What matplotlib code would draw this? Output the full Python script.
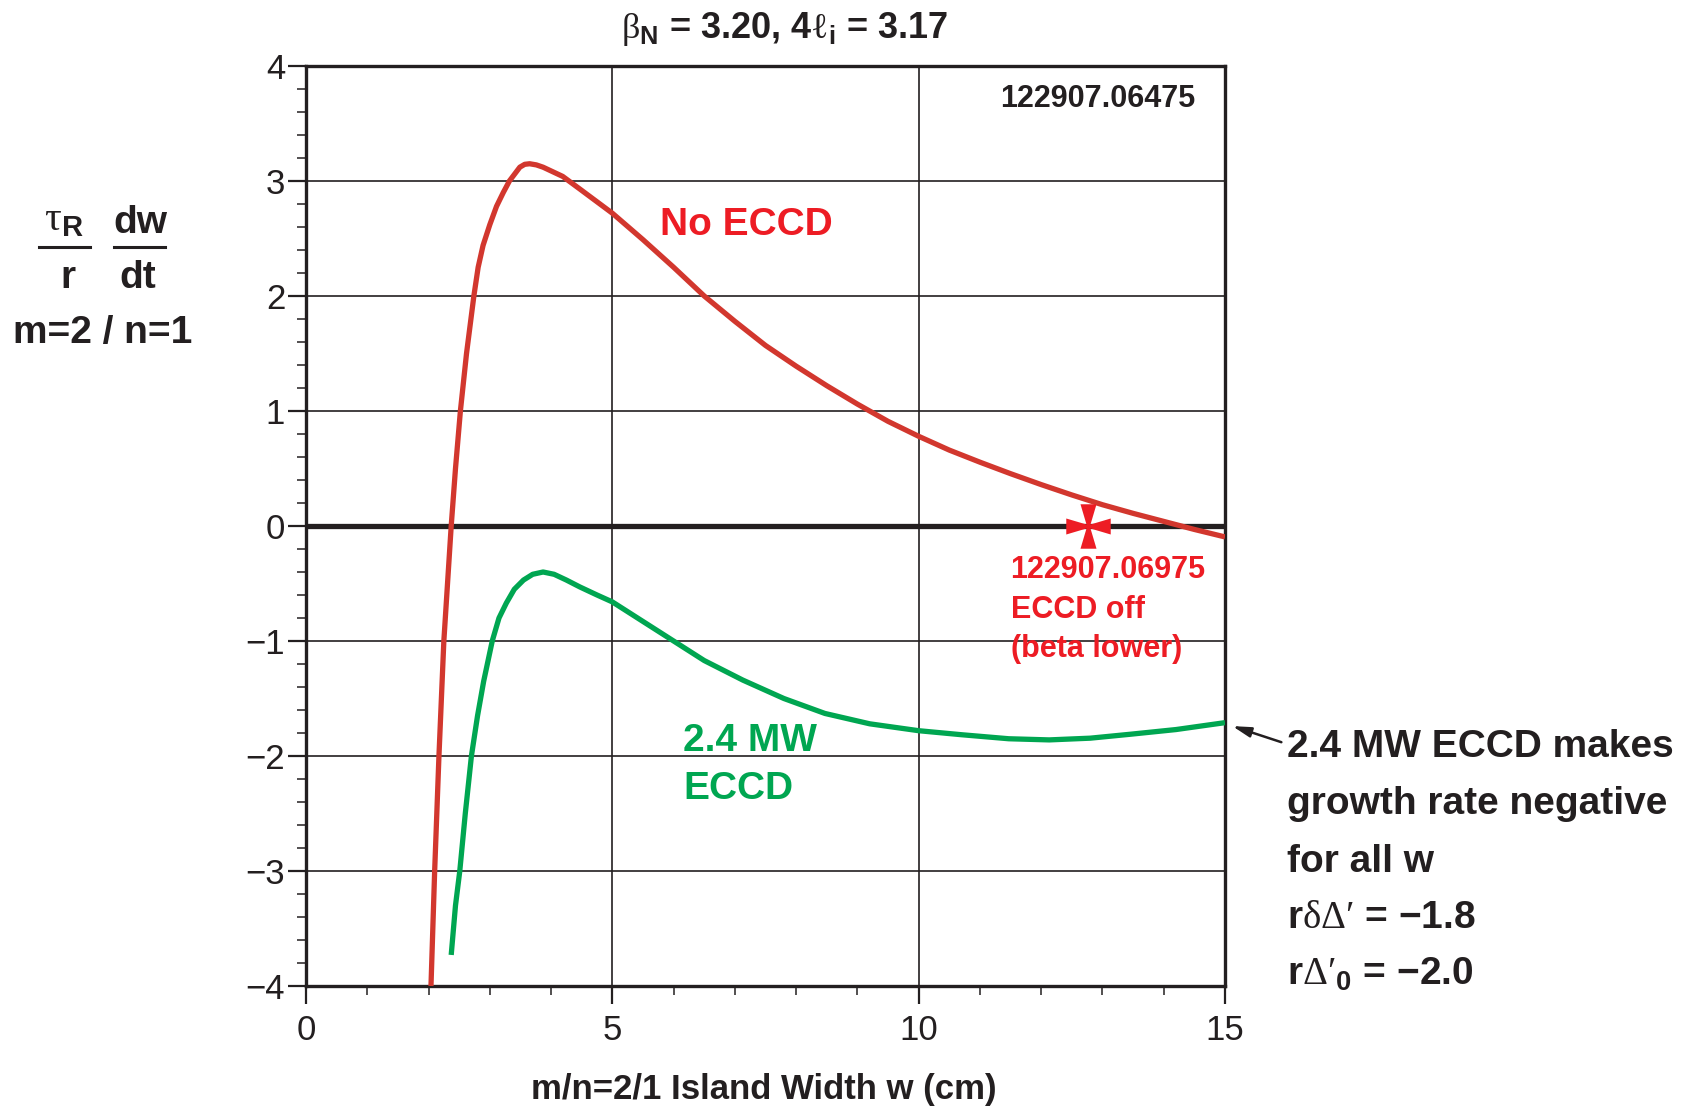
import numpy as np
import matplotlib
matplotlib.use('Agg')
import matplotlib.pyplot as plt
from matplotlib.lines import Line2D
from matplotlib.path import Path
from matplotlib.ticker import MultipleLocator

# Data
# No ECCD growth rate curve
red_w = [2.04, 2.07, 2.10, 2.135, 2.17, 2.21, 2.25, 2.31, 2.37, 2.44, 2.52, 2.62, 2.74, 2.81,
         2.89, 3.00, 3.11, 3.22, 3.32, 3.49, 3.57, 3.65, 3.76, 3.87, 4.19, 4.47, 5.0, 5.5,
         6.0, 6.5, 7.0, 7.5, 8.0, 8.5, 9.0, 9.5, 10.0, 10.5, 11.0, 11.5, 12.0, 12.5,
         13.0, 13.5, 14.0, 14.5, 15.0]
red_g = [-4.0, -3.5, -3.0, -2.5, -2.0, -1.5, -1.0, -0.5, 0.0, 0.5, 1.0, 1.5, 2.0, 2.25,
         2.44, 2.62, 2.78, 2.90, 3.00, 3.12, 3.145, 3.15, 3.14, 3.12, 3.04, 2.93, 2.72, 2.49,
         2.25, 2.00, 1.78, 1.57, 1.39, 1.22, 1.06, 0.91, 0.78, 0.66, 0.555, 0.455, 0.36, 0.27,
         0.185, 0.11, 0.04, -0.03, -0.095]

# 2.4 MW ECCD curve
green_w = [2.37, 2.44, 2.51, 2.60, 2.70, 2.80, 2.90, 3.04, 3.15, 3.27, 3.40, 3.55, 3.70, 3.87,
           4.05, 4.25, 4.47, 4.75, 5.0, 5.5, 6.0, 6.5, 7.13, 7.8, 8.47, 9.2, 10.0, 10.7,
           11.47, 12.13, 12.8, 13.47, 14.2, 15.0]
green_g = [-3.73, -3.3, -3.0, -2.5, -2.0, -1.65, -1.35, -1.0, -0.80, -0.67, -0.55, -0.47, -0.42, -0.40,
           -0.42, -0.47, -0.53, -0.60, -0.66, -0.83, -1.0, -1.17, -1.34, -1.50, -1.63, -1.72, -1.78, -1.815,
           -1.85, -1.86, -1.845, -1.81, -1.77, -1.71]

# ECCD off shot
marker_w = [12.76]
marker_g = [0.0]

xticks = [0, 5, 10, 15]
yticks = [-4, -3, -2, -1, 0, 1, 2, 3, 4]

RED_LINE = '#D2372E'
RED_TXT = '#ED1C24'
GREEN = '#00A651'
INK = '#231F20'
FONT = 'Liberation Sans'

plt.rcParams['font.family'] = [FONT, 'DejaVu Sans']
plt.rcParams['mathtext.fontset'] = 'custom'
plt.rcParams['mathtext.rm'] = FONT + ':bold'
plt.rcParams['mathtext.sf'] = 'Liberation Serif'

W, H = 1690, 1110
fig = plt.figure(figsize=(W / 100, H / 100), dpi=100)
ax = fig.add_axes([306 / W, 1 - 986 / H, 919 / W, 920 / H])


def fx(px):
    return px / W


def fy(py):
    return 1 - py / H


# maltese-cross marker
verts = [(1, -0.36), (1, 0.36), (0.09, 0.09), (0.36, 1), (-0.36, 1), (-0.09, 0.09),
         (-1, 0.36), (-1, -0.36), (-0.09, -0.09), (-0.36, -1), (0.36, -1), (0.09, -0.09), (1, -0.36)]
cross = Path(verts, [Path.MOVETO] + [Path.LINETO] * 11 + [Path.CLOSEPOLY])

ax.axhline(0, color=INK, lw=3.8, zorder=2)
ax.plot(red_w, red_g, color=RED_LINE, lw=3.8, zorder=3, solid_capstyle='butt', solid_joinstyle='round')
ax.plot(green_w, green_g, color=GREEN, lw=3.8, zorder=3, solid_capstyle='butt', solid_joinstyle='round')
ax.plot(marker_w, marker_g, linestyle='none', marker=cross, markersize=32,
        color=RED_TXT, markeredgewidth=0, zorder=4)

ax.set_xlim(0, 15)
ax.set_ylim(-4, 4)
ax.set_xticks(xticks)
ax.set_yticks(yticks)
ax.xaxis.set_minor_locator(MultipleLocator(1))
ax.yaxis.set_minor_locator(MultipleLocator(0.2))
ax.grid(True, which='major', color=INK, lw=1.2, zorder=1)
for s in ax.spines.values():
    s.set_linewidth(2.4)
    s.set_color(INK)
ax.tick_params(axis='both', which='major', direction='out', length=13, width=1.6,
               labelsize=25, color=INK, labelcolor=INK)
ax.tick_params(axis='both', which='minor', direction='out', length=6.5, width=1.1, color=INK)
ax.tick_params(axis='y', which='major', pad=2)
ax.tick_params(axis='x', which='major', pad=7)

# texts in the plot
ax.text(5.77, 2.53, 'No ECCD', color=RED_TXT, fontsize=28, fontweight='bold',
        ha='left', va='baseline')
ax.text(6.16, -1.96, '2.4 MW', color=GREEN, fontsize=28, fontweight='bold',
        ha='left', va='baseline')
ax.text(6.16, -2.37, 'ECCD', color=GREEN, fontsize=28, fontweight='bold',
        ha='left', va='baseline')
for yb, s in zip([-0.45, -0.80, -1.14], ['122907.06975', 'ECCD off', '(beta lower)']):
    ax.text(11.50, yb, s, color=RED_TXT, fontsize=22, fontweight='bold',
            ha='left', va='baseline')
ax.text(14.51, 3.64, '122907.06475', color=INK, fontsize=22, fontweight='bold',
        ha='right', va='baseline')

# right-hand note with arrow
ax.annotate('', xy=(15.12, -1.74), xytext=(15.92, -1.88),
            arrowprops=dict(arrowstyle='-|>,head_length=1.1,head_width=0.3', color=INK,
                            lw=1.8, shrinkA=0, shrinkB=0),
            annotation_clip=False)
notes = ['2.4 MW ECCD makes', 'growth rate negative', 'for all w',
         r'r$\mathsf{\delta\Delta}$$\mathsf{\prime}$ = −1.8',
         r'r$\mathsf{\Delta}$$\mathsf{\prime}_\mathrm{0}$ = −2.0']
for yb, s in zip([-2.01, -2.50, -3.01, -3.50, -3.99], notes):
    ax.text(16.02, yb, s, color=INK, fontsize=28, fontweight='bold',
            ha='left', va='baseline', clip_on=False)

# title and axis labels
fig.text(fx(785), fy(38), r'$\mathsf{\beta}_\mathrm{N}$ = 3.20, 4$\mathsf{\ell}_\mathrm{i}$ = 3.17',
         fontsize=26, fontweight='bold', ha='center', va='baseline', color=INK)
fig.text(fx(764), fy(1099), 'm/n=2/1 Island Width w (cm)', fontsize=25, fontweight='bold',
         ha='center', va='baseline', color=INK)

fig.text(fx(64), fy(230), r'$\mathsf{\tau}_\mathrm{R}$', fontsize=30, ha='center', va='baseline', color=INK)
fig.text(fx(68), fy(288), 'r', fontsize=28, fontweight='bold', ha='center', va='baseline', color=INK)
fig.text(fx(140), fy(233), 'dw', fontsize=28, fontweight='bold', ha='center', va='baseline', color=INK)
fig.text(fx(138), fy(288), 'dt', fontsize=28, fontweight='bold', ha='center', va='baseline', color=INK)
fig.add_artist(Line2D([fx(39), fx(90)], [fy(247), fy(247)], color=INK, lw=2.2))
fig.add_artist(Line2D([fx(114), fx(165)], [fy(247), fy(247)], color=INK, lw=2.2))
fig.text(fx(103), fy(343), 'm=2 / n=1', fontsize=28, fontweight='bold',
         ha='center', va='baseline', color=INK)

fig.savefig('out.png', dpi=100, facecolor='white')
